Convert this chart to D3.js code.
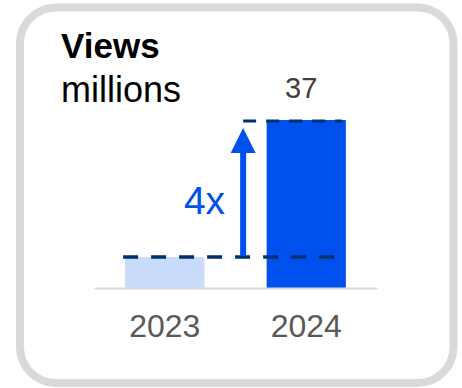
<!DOCTYPE html>
<html>
<head>
<meta charset="utf-8">
<script src="https://cdn.jsdelivr.net/npm/d3@7"></script>
<style>
  html, body { margin: 0; padding: 0; background: #fff; }
  svg { display: block; font-family: "Liberation Sans", Arial, sans-serif; }
</style>
</head>
<body>
<div id="chart"></div>
<script>
// --- data ---
const years = ["2023", "2024"];
const views = [6.8, 37];
const valueLabels = ["", "37"];
const growthLabel = "4x";

const width = 462, height = 388;
const axisY = 288, topY = 120;

const svg = d3.create("svg")
    .attr("width", width)
    .attr("height", height)
    .attr("viewBox", [0, 0, width, height]);

// card frame
svg.append("rect")
    .attr("x", 20).attr("y", 7.5)
    .attr("width", 433.5).attr("height", 375.5)
    .attr("rx", 36).attr("ry", 36)
    .attr("fill", "#fff")
    .attr("stroke", "#d9d9d9")
    .attr("stroke-width", 8);

// title
svg.append("text")
    .attr("x", 61).attr("y", 58)
    .attr("font-size", 35).attr("font-weight", "bold")
    .attr("fill", "#000")
    .text("Views");
svg.append("text")
    .attr("x", 61).attr("y", 102)
    .attr("font-size", 36)
    .attr("fill", "#000")
    .text("millions");

const x = d3.scaleBand()
    .domain(years)
    .range([94, 377])
    .paddingInner(0.44)
    .paddingOuter(0.22);

const y = d3.scaleLinear()
    .domain([0, d3.max(views)])
    .range([axisY, topY]);

const data = years.map((yr, i) => ({ year: yr, value: views[i], label: valueLabels[i] }));

// bars
svg.append("g")
  .selectAll("rect")
  .data(data)
  .join("rect")
    .attr("x", d => x(d.year))
    .attr("y", d => y(d.value))
    .attr("width", x.bandwidth())
    .attr("height", d => y(0) - y(d.value))
    .attr("fill", (d, i) => i === 0 ? "#c9dbfb" : "#0050ee");

// value label
svg.append("g")
  .selectAll("text")
  .data(data.filter(d => d.label))
  .join("text")
    .attr("x", d => x(d.year) + x.bandwidth() / 2 - 5)
    .attr("y", d => y(d.value) - 22)
    .attr("text-anchor", "middle")
    .attr("font-size", 29)
    .attr("fill", "#404040")
    .text(d => d.label);

// x axis
const xAxis = svg.append("g")
    .attr("transform", `translate(0,${axisY})`)
    .call(d3.axisBottom(x).tickSize(0).tickPadding(26));
xAxis.select(".domain").attr("stroke", "#d9d9d9").attr("stroke-width", 2);
xAxis.selectAll("text")
    .attr("font-size", 32)
    .attr("font-family", "'Liberation Sans', Arial, sans-serif")
    .attr("fill", "#595959");

// comparison guides
const arrowX = x(years[1]) - 23.5;
const lowY = y(views[0]), highY = y(views[1]);
const navy = "#00306e";

svg.append("line")
    .attr("x1", x(years[0]) - 2).attr("x2", x(years[1]) + x.bandwidth() - 10)
    .attr("y1", lowY).attr("y2", lowY)
    .attr("stroke", navy).attr("stroke-width", 3.5)
    .attr("stroke-dasharray", "15,13");

svg.append("line")
    .attr("x1", arrowX).attr("x2", x(years[1]) + x.bandwidth() - 4)
    .attr("y1", highY + 1).attr("y2", highY + 1)
    .attr("stroke", navy).attr("stroke-width", 3)
    .attr("stroke-dasharray", "13,10");

// arrow
svg.append("line")
    .attr("x1", arrowX).attr("x2", arrowX)
    .attr("y1", lowY - 1).attr("y2", highY + 32)
    .attr("stroke", "#0050ee").attr("stroke-width", 6);
svg.append("path")
    .attr("d", d3.line()([[arrowX - 12.5, highY + 33], [arrowX, highY + 8], [arrowX + 12.5, highY + 33]]) + "Z")
    .attr("fill", "#0050ee");

svg.append("text")
    .attr("x", arrowX - 18).attr("y", 214)
    .attr("text-anchor", "end")
    .attr("font-size", 39)
    .attr("fill", "#0050ee")
    .text(growthLabel);

document.getElementById("chart").append(svg.node());
</script>
</body>
</html>
